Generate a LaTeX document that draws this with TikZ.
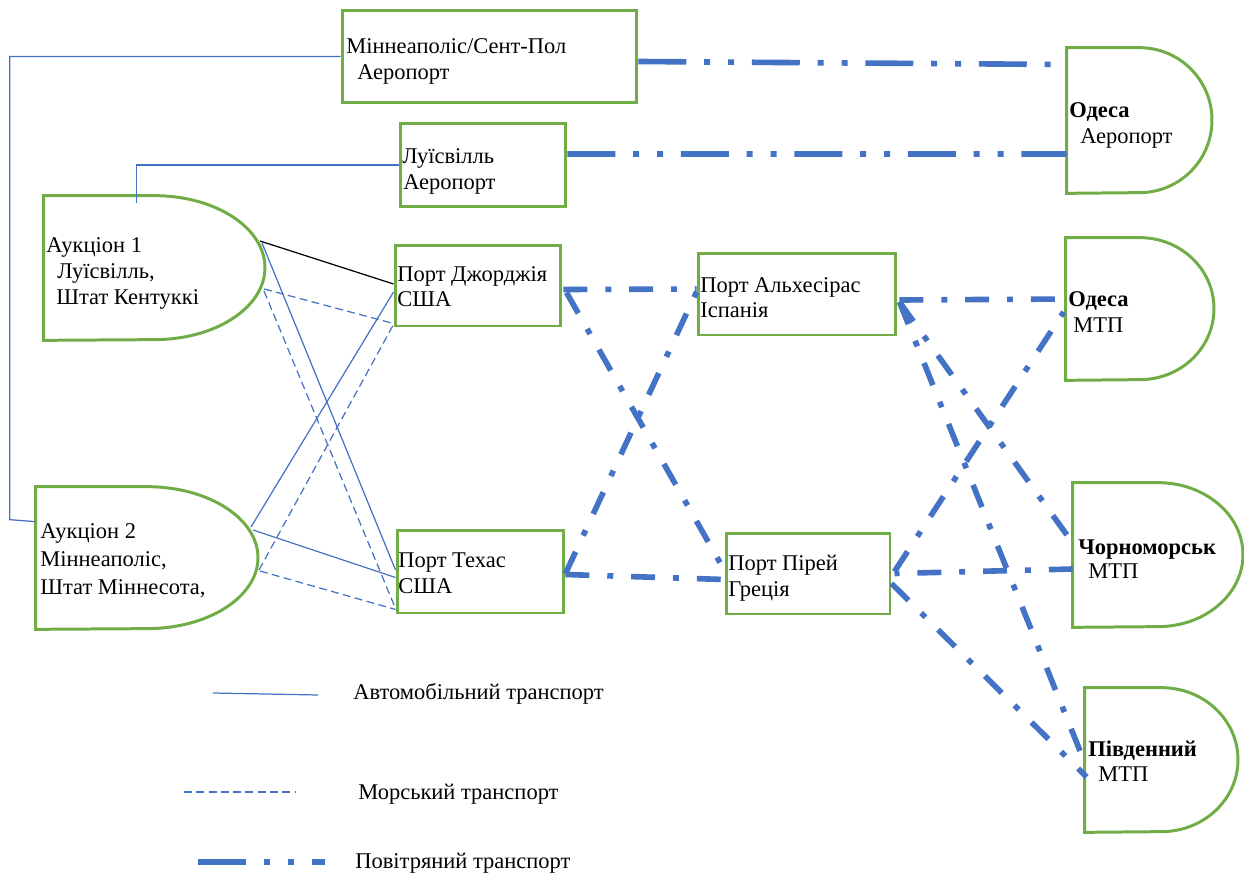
\documentclass[tikz,border=0pt]{standalone}
\usepackage{fontspec}
\setmainfont{Liberation Serif}
\usetikzlibrary{calc}

\definecolor{lineblue}{HTML}{4472C4}
\definecolor{boxgreen}{HTML}{70AD47}

% D-shaped outline (flat left side, half-ellipse on the right) around a node
\newcommand\drawD[3]{%
  \draw[dline] (#1.north west) -- (#1.north)
    arc[start angle=90,end angle=-90,x radius=#2,y radius=#3]
    -- (#1.south west) -- cycle;}

\begin{document}
\begin{tikzpicture}[x=0.02cm,y=-0.02cm,
  box/.style={draw=boxgreen,line width=1.7pt,rectangle,inner sep=0pt},
  dnode/.style={draw=none,rectangle,inner sep=0pt},
  dline/.style={draw=boxgreen,line width=1.7pt},
  txt/.style={anchor=base west,inner sep=0pt,font=\fontsize{12.8}{14.7}\selectfont},
  road/.style={draw=lineblue,line width=0.7pt},
  truck/.style={draw=black,line width=0.7pt},
  sea/.style={draw=lineblue,line width=0.7pt,dash pattern=on 4.5pt off 2.5pt},
  air/.style={draw=lineblue,line width=3.2pt,dash pattern=on 13.6pt off 10.2pt on 3.4pt off 10.2pt},
  airlong/.style={draw=lineblue,line width=3.2pt,dash pattern=on 27.2pt off 10.2pt on 3.4pt off 10.2pt on 3.4pt off 10.2pt},
]
\useasboundingbox (0,0) rectangle (1244,875);

% ---- rectangular nodes: airports and sea ports
\node[box,minimum width=5.90cm,minimum height=1.86cm] (msp) at (489.5,56.5) {};
\node[box,minimum width=3.32cm,minimum height=1.68cm] (lou) at (483,165) {};
\node[box,minimum width=3.32cm,minimum height=1.62cm] (geo) at (478,285.5) {};
\node[box,minimum width=3.34cm,minimum height=1.66cm] (tex) at (480.5,571.5) {};
\node[box,minimum width=3.96cm,minimum height=1.64cm] (alg) at (797,294) {};
\node[box,minimum width=3.28cm,minimum height=1.62cm] (pir) at (808,573.5) {};

% ---- D-shaped nodes: auctions and Ukrainian destinations
\node[dnode,minimum width=4.42cm,minimum height=2.88cm] (a1) at (154.5,268) {};
\node[dnode,minimum width=4.44cm,minimum height=2.84cm] (a2) at (147,558) {};
\node[dnode,minimum width=2.90cm,minimum height=2.90cm] (oda) at (1139.5,120.5) {};
\node[dnode,minimum width=2.96cm,minimum height=2.84cm] (odm) at (1140,309) {};
\node[dnode,minimum width=3.40cm,minimum height=2.88cm] (chm) at (1158,555) {};
\node[dnode,minimum width=3.06cm,minimum height=2.88cm] (pvd) at (1161.5,760) {};
\drawD{a1}{2.21cm}{1.44cm}
\drawD{a2}{2.22cm}{1.42cm}
\drawD{oda}{1.45cm}{1.45cm}
\drawD{odm}{1.48cm}{1.42cm}
\drawD{chm}{1.70cm}{1.44cm}
\drawD{pvd}{1.53cm}{1.44cm}

% ---- labels
\node[txt] (t-msp-1) at (346,54) {Міннеаполіс/Сент-Пол};
\node[txt] (t-msp-2) at (357,80) {Аеропорт};
\node[txt] (t-lou-1) at (402,163) {Луїсвілль};
\node[txt] (t-lou-2) at (403,189) {Аеропорт};
\node[txt] (t-a1-1) at (46,252) {Аукціон 1};
\node[txt] (t-a1-2) at (57,278) {Луїсвілль,};
\node[txt] (t-a1-3) at (56,304) {Штат Кентуккі};
\node[txt] (t-a2-1) at (40,538) {Аукціон 2};
\node[txt] (t-a2-2) at (40,566) {Міннеаполіс,};
\node[txt] (t-a2-3) at (40,594) {Штат Міннесота,};
\node[txt] (t-geo-1) at (397,281) {Порт Джорджія};
\node[txt] (t-geo-2) at (397,306) {США};
\node[txt] (t-tex-1) at (398,567) {Порт Техас};
\node[txt] (t-tex-2) at (398,593) {США};
\node[txt] (t-alg-1) at (700,292) {Порт Альхесірас};
\node[txt] (t-alg-2) at (700,317) {Іспанія};
\node[txt] (t-pir-1) at (728,570) {Порт Пірей};
\node[txt] (t-pir-2) at (728,596) {Греція};
\node[txt,font=\fontsize{12.8}{14.7}\selectfont\bfseries] (t-oda-1) at (1069,117) {Одеса};
\node[txt] (t-oda-2) at (1080,143) {Аеропорт};
\node[txt,font=\fontsize{12.8}{14.7}\selectfont\bfseries] (t-odm-1) at (1068,306) {Одеса};
\node[txt] (t-odm-2) at (1073,332) {МТП};
\node[txt,font=\fontsize{12.8}{14.7}\selectfont\bfseries] (t-chm-1) at (1078,554) {Чорноморськ};
\node[txt] (t-chm-2) at (1088,578) {МТП};
\node[txt,font=\fontsize{12.8}{14.7}\selectfont\bfseries] (t-pvd-1) at (1088,756) {Південний};
\node[txt] (t-pvd-2) at (1098,781) {МТП};

% ---- road transport
\draw[road] (msp.west) -| ($(a2.north west)+(-26,33)$) -- ($(a2.north west)+(0,35)$);
\draw[road] (lou.west) -| ($(a1.north west)+(93,7)$);
\draw[truck] ($(a1)+(105.5,-27)$) -- ($(geo.west)+(0,-1.5)$);
\draw[road] ($(a1)+(107.5,-25)$) -- ($(tex.west)+(0,-1.5)$);
\draw[road] ($(a2)+(104,-31)$) -- ($(geo.west)+(0,6.5)$);
\draw[road] ($(a2)+(106,-28)$) -- ($(tex.west)+(0,6)$);

% ---- sea transport
\draw[sea] ($(a1)+(109.5,21)$) -- ($(geo.south west)+(0,-4)$);
\draw[sea] ($(a1)+(109.5,23)$) -- ($(tex.south west)+(0,-6)$);
\draw[sea] ($(a2)+(112,12)$) -- ($(geo.south west)+(0,-3)$);
\draw[sea] ($(a2)+(113,13)$) -- ($(tex.south west)+(0,-5)$);

% ---- air / long-haul transport
\draw[airlong] ($(msp.east)+(0,5)$) -- ($(oda.west)+(0,-56)$);
\draw[airlong] ($(lou.east)+(0,-11)$) -- ($(oda.west)+(0,33.5)$);
\draw[air] ($(geo.east)+(1,4)$) -- ($(alg.west)+(0,-5)$);
\draw[air] ($(geo.east)+(4,7)$) -- ($(pir.west)+(0,-3)$);
\draw[air] ($(tex.east)+(0,2)$) -- ($(alg.west)+(0,-2)$);
\draw[air] ($(tex.east)+(0,3)$) -- ($(pir.west)+(0,6)$);
\draw[air] ($(alg.east)+(2,6)$) -- ($(odm.west)+(0,-10)$);
\draw[air] ($(alg.east)+(2,8)$) -- ($(chm.west)+(0,-12)$);
\draw[air] ($(alg.east)+(2,8)$) -- ($(pvd.west)+(-3,-5)$);
\draw[air] ($(pir.east)+(3,-2)$) -- ($(odm.west)+(-2,3)$);
\draw[air] ($(chm.west)+(0,14)$) -- ($(pir.east)+(3,0)$);
\draw[air] ($(pir.east)+(0,10)$) -- ($(pvd.west)+(2,17)$);

% ---- legend
\coordinate (lg-road-a) at (213,693);
\coordinate (lg-road-b) at (318,695);
\coordinate (lg-sea-a) at (184,792);
\coordinate (lg-sea-b) at (295,792);
\coordinate (lg-air-a) at (198,862);
\coordinate (lg-air-b) at (325,862);
\draw[road] (lg-road-a) -- (lg-road-b);
\draw[sea] (lg-sea-a) -- (lg-sea-b);
\draw[airlong] (lg-air-a) -- (lg-air-b);
\node[txt] (lg-road-t) at (353,699) {Автомобільний транспорт};
\node[txt] (lg-sea-t) at (358,799) {Морський транспорт};
\node[txt] (lg-air-t) at (355,868) {Повітряний транспорт};
\end{tikzpicture}
\end{document}
